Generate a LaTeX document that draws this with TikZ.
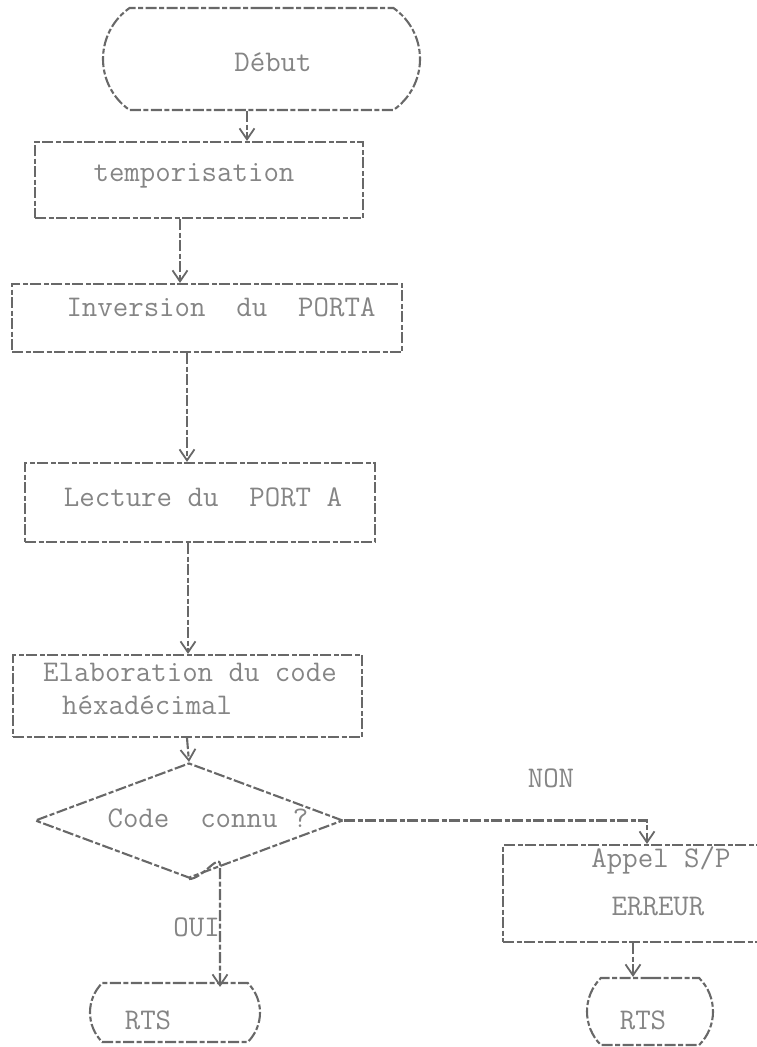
\documentclass[tikz,border=0pt]{standalone}
\usetikzlibrary{shapes.geometric,shapes.misc,arrows.meta,calc}
\definecolor{ink}{HTML}{686868}
\definecolor{txtc}{HTML}{858585}
\begin{document}
\begin{tikzpicture}[x=1pt,y=-1pt,
  line/.style={draw=ink,line width=2.1pt,dash pattern=on 11pt off 2.5pt on 5pt off 2.5pt},
  boxn/.style={line,rectangle,inner sep=0pt},
  term/.style={line,rounded rectangle,rounded rectangle arc length=110,inner sep=0pt},
  txt/.style={text=txtc,font=\ttfamily\fontsize{30}{34}\selectfont,inner sep=0pt},
  arr/.style={line,-{Straight Barb[length=11pt,width=15pt,line width=1.8pt]}}
]
\useasboundingbox (0,0) rectangle (757,1047);
% shapes
\node[term,minimum width=317pt,minimum height=102pt] (debut) at (261.5,59) {};
\node[boxn,minimum width=328pt,minimum height=76pt] (temp) at (199,180) {};
\node[boxn,minimum width=390pt,minimum height=68pt] (inv) at (207,318) {};
\node[boxn,minimum width=350pt,minimum height=79pt] (lect) at (200,502.5) {};
\node[boxn,minimum width=349pt,minimum height=82pt] (elab) at (187.5,696) {};
\node[line,diamond,inner sep=0pt,minimum width=308pt,minimum height=115pt] (dia) at (189,820.5) {};
\node[boxn,minimum width=262pt,minimum height=97pt] (appel) at (634,893.5) {};
\node[term,minimum width=170pt,minimum height=59pt,rounded rectangle arc length=90] (rtsa) at (175,1012.5) {};
\node[term,minimum width=126pt,minimum height=67pt,rounded rectangle arc length=90] (rtsb) at (650,1011.5) {};
% texts
\node[txt] (tdebut) at (273,62) {Début};
\node[txt] (ttemp) at (194,176) {temporisation};
\node[txt] (tinv) at (221,307) {Inversion\ \ du\ \ PORTA};
\node[txt] (tlect) at (203,497) {Lecture du\ \ PORT A};
\node[txt,anchor=west] (telab1) at (43,672) {Elaboration du code};
\node[txt,anchor=west] (telab2) at (62,705) {héxadécimal};
\node[txt] (tdia) at (208,818) {Code\ \ connu ?};
\node[txt] (tappel1) at (661,860) {Appel S/P};
\node[txt] (tappel2) at (658,907) {ERREUR};
\node[txt] (trtsa) at (148,1020) {RTS};
\node[txt] (trtsb) at (643,1020) {RTS};
\node[txt] (tnon) at (551,778) {NON};
\node[txt,anchor=east] (toui) at (220,927) {OUI};
% connectors
\draw[arr] ([xshift=-14.5pt]debut.south) -- ([xshift=-14.5pt]debut.south |- temp.north);
\draw[arr] ([xshift=-19pt]temp.south) -- ([xshift=-19pt]temp.south |- inv.north);
\draw[arr] ([xshift=-20pt]inv.south) -- ([xshift=-20pt]inv.south |- lect.north);
\draw[arr] ([xshift=-12pt]lect.south) -- ([xshift=-12pt]lect.south |- elab.north);
\draw[arr] ([xshift=-0.5pt]elab.south) -- (dia.north);
\coordinate (nonc) at ([xshift=13pt]appel.north |- dia.east);
\draw[arr] (dia.east) -- (nonc) -- ([xshift=13pt]appel.north);
\coordinate (ouic) at ([xshift=31pt,yshift=14pt]dia.south);
\draw[arr] (dia.south) to[out=0,in=90] (ouic) -- ([yshift=-5pt]ouic |- rtsa.north);
\draw[arr] ([xshift=-1pt]appel.south) -- ([xshift=-1pt]appel.south |- rtsb.north);
\end{tikzpicture}
\end{document}
